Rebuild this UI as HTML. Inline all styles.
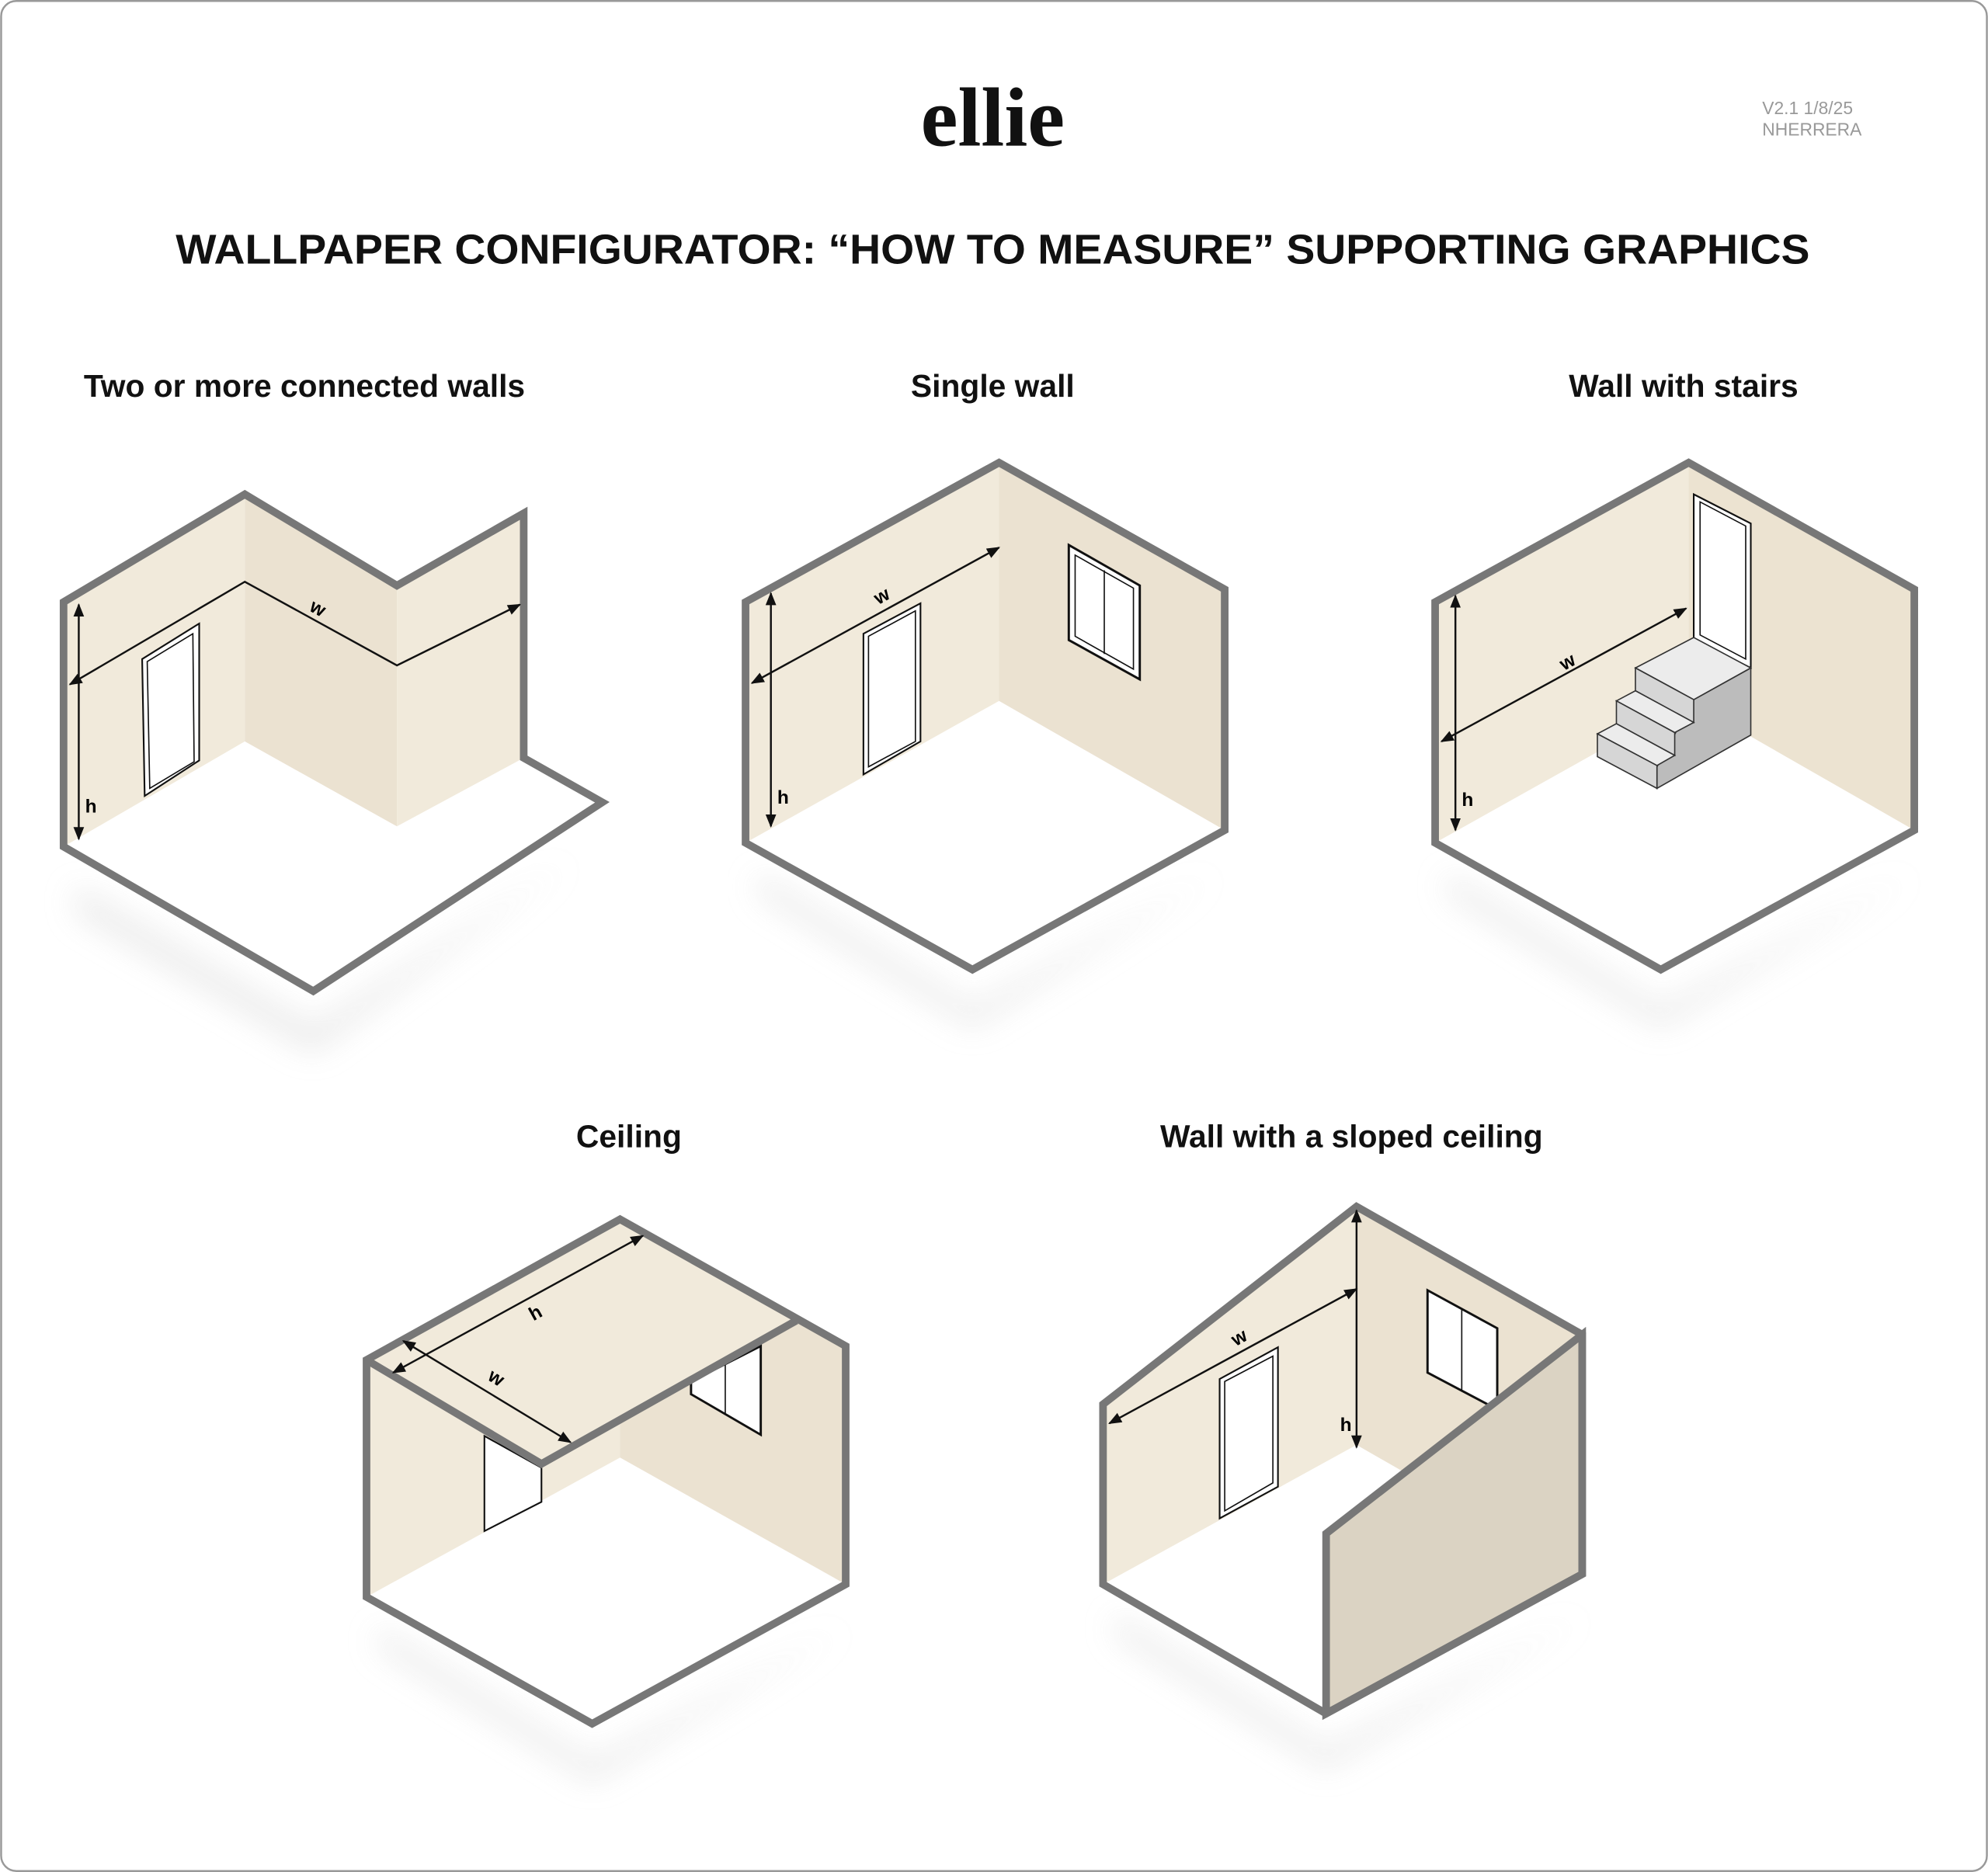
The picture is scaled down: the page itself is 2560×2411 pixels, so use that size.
<!DOCTYPE html>
<html><head><meta charset="utf-8"><style>
html,body{margin:0;padding:0;background:#fff;}
svg{display:block;}
text{font-family:"Liberation Sans",sans-serif;}
</style></head><body>
<svg width="2560" height="2411" viewBox="0 0 1568 1477" xmlns="http://www.w3.org/2000/svg">
<defs>
<filter id="bl" x="-20%" y="-20%" width="140%" height="140%"><feGaussianBlur stdDeviation="12"/></filter>
<marker id="ar" viewBox="0 0 10 10" refX="9" refY="5" markerWidth="7" markerHeight="7" orient="auto-start-reverse"><path d="M0,1 L10,5 L0,9 z" fill="#111"/></marker>
</defs>
<rect x="0.75" y="0.75" width="1566.5" height="1475.5" rx="12" fill="#fff" stroke="#999" stroke-width="1.5"/>
<text x="783" y="115" text-anchor="middle" font-family="Liberation Serif,serif" font-size="66" font-weight="bold" fill="#111" style="font-family:'Liberation Serif',serif">ellie</text>
<text x="1390" y="90" font-size="14" fill="#999">V2.1 1/8/25</text>
<text x="1390" y="107" font-size="14" fill="#999">NHERRERA</text>
<text x="783" y="208" text-anchor="middle" font-size="33" font-weight="bold" fill="#111" textLength="1289" lengthAdjust="spacingAndGlyphs">WALLPAPER CONFIGURATOR: “HOW TO MEASURE” SUPPORTING GRAPHICS</text>
<g font-size="25" font-weight="bold" fill="#111" text-anchor="middle">
<text x="240" y="313">Two or more connected walls</text>
<text x="783" y="313">Single wall</text>
<text x="1328" y="313">Wall with stairs</text>
<text x="496" y="905">Ceiling</text>
<text x="1066" y="905">Wall with a sloped ceiling</text>
</g>

<g fill="#e4e4e4" filter="url(#bl)" opacity="0.8">
<polygon points="60,700 247,810 450,680 247,830 60,720"/>
<polygon points="598,690 767,795 960,690 767,810 598,705"/>
<polygon points="1142,690 1310,795 1510,690 1310,810 1142,705"/>
<polygon points="299,1285 467,1390 667,1285 467,1405 299,1300"/>
<polygon points="880,1275 1046,1380 1250,1275 1046,1395 880,1290"/>
</g>

<g stroke-linejoin="miter">
<polygon points="50,475 193,390 313,462 413,405 413,598 475,633 247,782 50,668" fill="#fff"/>
<polygon points="50,475 193,390 193,585 50,668" fill="#f1eadb"/>
<polygon points="193,390 313,462 313,652 193,585" fill="#ebe2d1"/>
<polygon points="313,462 413,405 413,598 313,652" fill="#f1eadb"/>
<polygon points="112,520 157,492 157,600 114,628" fill="#fff" stroke="#111" stroke-width="1.3"/>
<polygon points="116,522 152,500 153,601 118,622" fill="none" stroke="#111" stroke-width="1"/>
<polygon points="50,475 193,390 313,462 413,405 413,598 475,633 247,782 50,668" fill="none" stroke="#777" stroke-width="6"/>
<polyline points="55,540 193,459 313,525 410,477" fill="none" stroke="#111" stroke-width="1.5" marker-start="url(#ar)" marker-end="url(#ar)"/>
<line x1="62" y1="477" x2="62" y2="662" stroke="#111" stroke-width="1.5" marker-start="url(#ar)" marker-end="url(#ar)"/>
<text x="245" y="482" font-size="15" font-weight="bold" transform="rotate(28 245 478)">w</text>
<text x="67" y="641" font-size="15" font-weight="bold">h</text>

<polygon points="588,475 788,365 966,465 966,655 767,765 588,665" fill="#fff"/>
<polygon points="588,475 788,365 788,553 588,665" fill="#f1eadb"/>
<polygon points="788,365 966,465 966,655 788,553" fill="#ebe2d1"/>
<polygon points="681,500 726,476 726,585 681,611" fill="#fff" stroke="#111" stroke-width="1.3"/>
<polygon points="685,502 722,482 722,585 685,605" fill="none" stroke="#111" stroke-width="1"/>
<polygon points="843,430 899,462 899,536 843,505" fill="#fff" stroke="#111" stroke-width="1.8"/>
<polygon points="848,438 894,464 894,528 848,502" fill="none" stroke="#111" stroke-width="1"/>
<line x1="871" y1="450" x2="871" y2="516" stroke="#111" stroke-width="1"/>
<polygon points="588,475 788,365 966,465 966,655 767,765 588,665" fill="none" stroke="#777" stroke-width="6"/>
<line x1="593" y1="539" x2="788" y2="432" stroke="#111" stroke-width="1.5" marker-start="url(#ar)" marker-end="url(#ar)"/>
<line x1="608" y1="468" x2="608" y2="652" stroke="#111" stroke-width="1.5" marker-start="url(#ar)" marker-end="url(#ar)"/>
<text x="690" y="475" font-size="15" font-weight="bold" transform="rotate(-29 696 471)">w</text>
<text x="613" y="634" font-size="15" font-weight="bold">h</text>

<polygon points="1132,475 1332,365 1510,465 1510,655 1310,765 1132,665" fill="#fff"/>
<polygon points="1132,475 1332,365 1332,553 1132,665" fill="#f1eadb"/>
<polygon points="1332,365 1510,465 1510,655 1332,553" fill="#ece3d1"/>
<polygon points="1336,390 1381,413 1381,527 1336,505" fill="#fff" stroke="#111" stroke-width="1.3"/>
<polygon points="1341,396 1377,415 1377,520 1341,501" fill="none" stroke="#111" stroke-width="1"/>
<polygon points="1336,552 1381,527 1381,580 1307,622 1307,605" fill="#bcbcbc" stroke="#333" stroke-width="1"/>
<polygon points="1290,527 1336,503 1381,527 1336,552" fill="#ececec" stroke="#333" stroke-width="1"/>
<polygon points="1290,527 1336,552 1336,570 1290,545" fill="#d6d6d6" stroke="#333" stroke-width="1"/>
<polygon points="1290,545 1336,570 1321,578 1275,553" fill="#ececec" stroke="#333" stroke-width="1"/>
<polygon points="1275,553 1321,578 1321,596 1275,571" fill="#d6d6d6" stroke="#333" stroke-width="1"/>
<polygon points="1275,571 1321,596 1307,604 1260,579" fill="#ececec" stroke="#333" stroke-width="1"/>
<polygon points="1260,579 1307,604 1307,622 1260,597" fill="#d6d6d6" stroke="#333" stroke-width="1"/>
<polygon points="1132,475 1332,365 1510,465 1510,655 1310,765 1132,665" fill="none" stroke="#777" stroke-width="6"/>
<line x1="1137" y1="585" x2="1330" y2="480" stroke="#111" stroke-width="1.5" marker-start="url(#ar)" marker-end="url(#ar)"/>
<line x1="1148" y1="470" x2="1148" y2="655" stroke="#111" stroke-width="1.5" marker-start="url(#ar)" marker-end="url(#ar)"/>
<text x="1231" y="527" font-size="15" font-weight="bold" transform="rotate(-29 1237 523)">w</text>
<text x="1153" y="636" font-size="15" font-weight="bold">h</text>

<polygon points="289,1073 489,962 667,1062 667,1250 467,1360 289,1260" fill="#fff"/>
<polygon points="289,1073 489,962 489,1150 289,1260" fill="#f1eadb"/>
<polygon points="489,962 667,1062 667,1250 489,1150" fill="#ebe2d1"/>
<polygon points="382,1133 427,1158 427,1185 382,1208" fill="#fff" stroke="#111" stroke-width="1.3"/>
<polygon points="545,1090 600,1062 600,1132 545,1100" fill="#fff" stroke="#111" stroke-width="1.8"/>
<line x1="572" y1="1075" x2="572" y2="1115" stroke="#111" stroke-width="1"/>
<polygon points="289,1073 489,962 628,1042 427,1155" fill="#f1eadb"/>
<polyline points="289,1073 427,1155 628,1042" fill="none" stroke="#777" stroke-width="6"/>
<polygon points="289,1073 489,962 667,1062 667,1250 467,1360 289,1260" fill="none" stroke="#777" stroke-width="6"/>
<line x1="318" y1="1058" x2="450" y2="1138" stroke="#111" stroke-width="1.5" marker-start="url(#ar)" marker-end="url(#ar)"/>
<line x1="310" y1="1083" x2="507" y2="975" stroke="#111" stroke-width="1.5" marker-start="url(#ar)" marker-end="url(#ar)"/>
<text x="418" y="1040" font-size="15" font-weight="bold" transform="rotate(-29 424 1036)">h</text>
<text x="385" y="1092" font-size="15" font-weight="bold" transform="rotate(31 391 1088)">w</text>

<polygon points="870,1108 1070,952 1248,1053 1248,1242 1046,1352 870,1250" fill="#fff"/>
<polygon points="870,1108 1070,952 1070,1140 870,1250" fill="#f1eadb"/>
<polygon points="1070,952 1248,1053 1248,1242 1070,1140" fill="#ebe2d1"/>
<polygon points="962,1088 1008,1063 1008,1173 962,1198" fill="#fff" stroke="#111" stroke-width="1.3"/>
<polygon points="966,1090 1004,1070 1004,1170 966,1192" fill="none" stroke="#111" stroke-width="1"/>
<polygon points="1126,1018 1181,1048 1181,1112 1126,1083" fill="#fff" stroke="#111" stroke-width="1.8"/>
<line x1="1153" y1="1033" x2="1153" y2="1098" stroke="#111" stroke-width="1"/>
<polygon points="1046,1210 1248,1053 1248,1242 1046,1352" fill="#dbd3c3" stroke="#777" stroke-width="6"/>
<polygon points="870,1108 1070,952 1248,1053 1248,1242 1046,1352 870,1250" fill="none" stroke="#777" stroke-width="6"/>
<line x1="875" y1="1123" x2="1070" y2="1017" stroke="#111" stroke-width="1.5" marker-start="url(#ar)" marker-end="url(#ar)"/>
<line x1="1070" y1="955" x2="1070" y2="1142" stroke="#111" stroke-width="1.5" marker-start="url(#ar)" marker-end="url(#ar)"/>
<text x="972" y="1060" font-size="15" font-weight="bold" transform="rotate(-29 978 1056)">w</text>
<text x="1057" y="1129" font-size="15" font-weight="bold">h</text>
</g>
</svg>
</body></html>
